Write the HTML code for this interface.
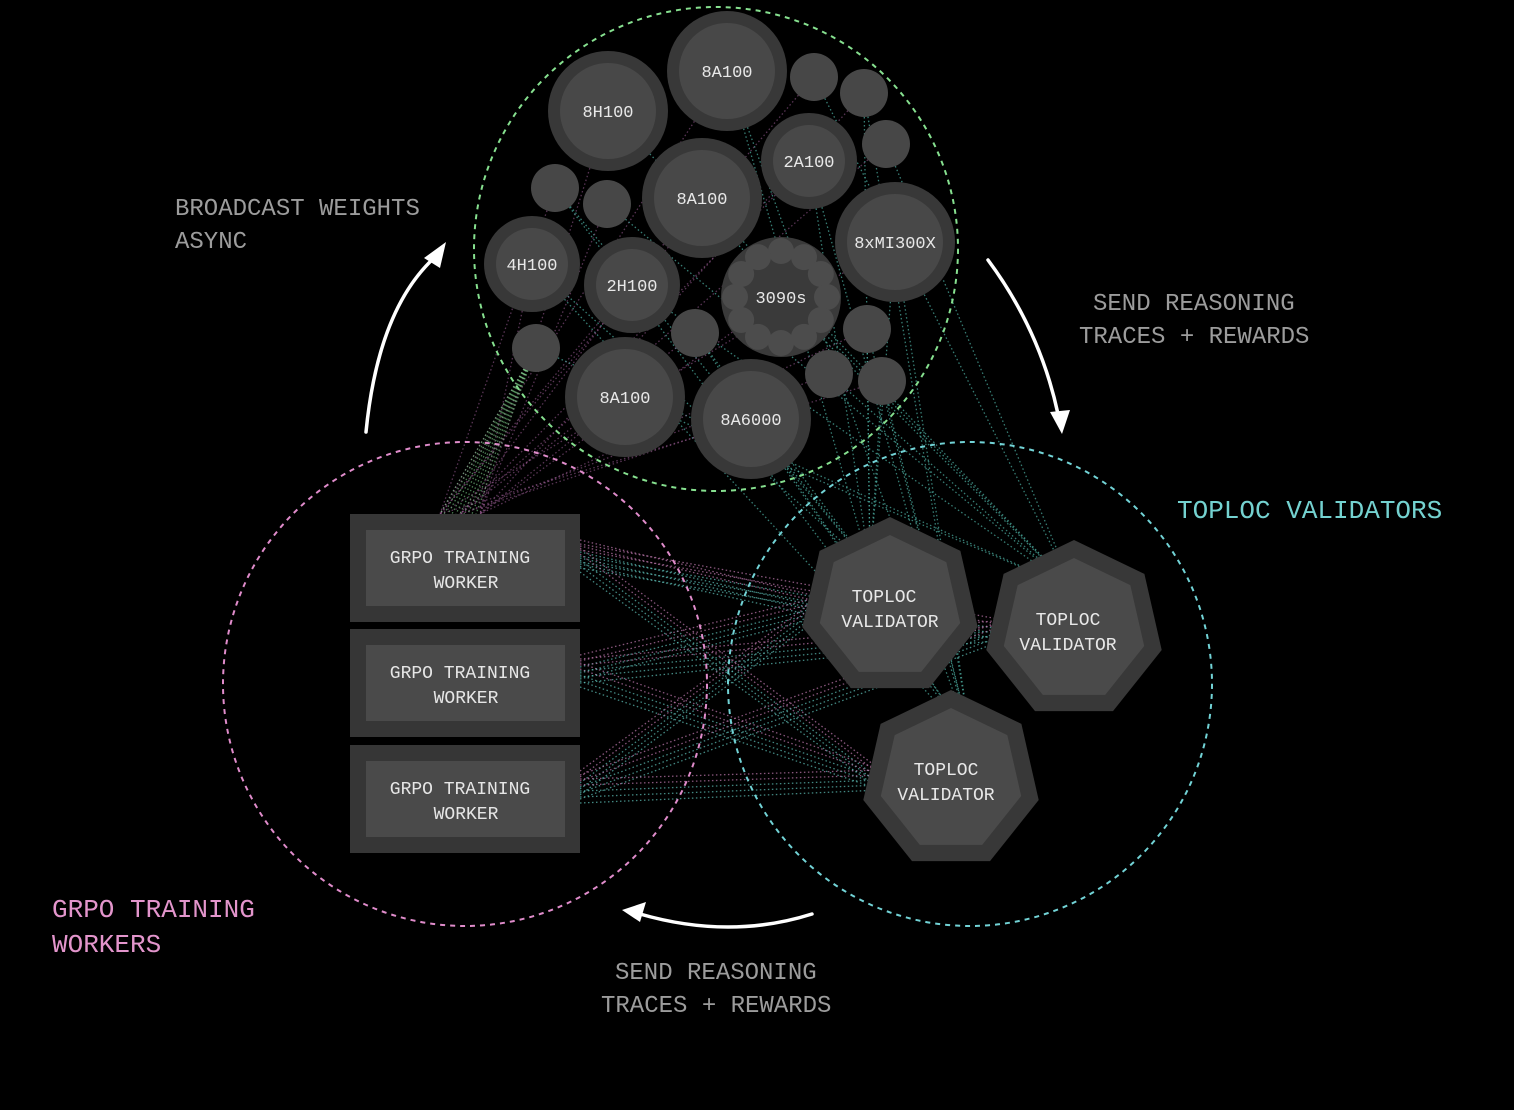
<!DOCTYPE html>
<html><head><meta charset="utf-8"><style>
html,body{margin:0;padding:0;background:#000;width:1514px;height:1110px;overflow:hidden}
svg{display:block}
text{font-family:"Liberation Mono","DejaVu Sans Mono",monospace}
</style></head><body>
<svg id="s" width="1514" height="1110" viewBox="0 0 1514 1110" xmlns="http://www.w3.org/2000/svg">
<rect width="1514" height="1110" fill="#000"/>
<g id="lines"></g>
<!-- dashed group circles -->
<circle cx="716" cy="249" r="242" fill="none" stroke="#86e08f" stroke-width="2" stroke-dasharray="5 5"/>
<circle cx="465" cy="684" r="242" fill="none" stroke="#e08ccb" stroke-width="2" stroke-dasharray="5 5"/>
<circle cx="970" cy="684" r="242" fill="none" stroke="#72d3d6" stroke-width="2" stroke-dasharray="5 5"/>
<g id="nodes"></g>
<!-- workers -->
<g font-size="18" fill="#e6e6e6" text-anchor="middle">
<rect x="350" y="514" width="230" height="108" fill="#363636"/><rect x="366" y="530" width="199" height="76" fill="#4a4a4a"/>
<text x="460" y="563">GRPO TRAINING</text><text x="466" y="588">WORKER</text>
<rect x="350" y="629" width="230" height="108" fill="#363636"/><rect x="366" y="645" width="199" height="76" fill="#4a4a4a"/>
<text x="460" y="678">GRPO TRAINING</text><text x="466" y="703">WORKER</text>
<rect x="350" y="745" width="230" height="108" fill="#363636"/><rect x="366" y="761" width="199" height="76" fill="#4a4a4a"/>
<text x="460" y="794">GRPO TRAINING</text><text x="466" y="819">WORKER</text>
</g>
<g id="hepts"></g>
<!-- arrows -->
<g fill="none" stroke="#fff" stroke-width="3.5" stroke-linecap="round">
<path d="M366 432 Q378 310 434 258"/>
<path d="M988 260 Q1040 330 1058 414"/>
<path d="M812 914 Q730 940 640 914"/>
</g>
<g fill="#fff">
<polygon points="446,242 424,258 440,268"/>
<polygon points="1062,434 1050,412 1070,410"/>
<polygon points="622,910 646,902 640,922"/>
</g>
<!-- labels -->
<g font-size="24" fill="#9c9c9c">
<text x="175" y="215">BROADCAST WEIGHTS</text>
<text x="175" y="248">ASYNC</text>
<text x="1093" y="310">SEND REASONING</text>
<text x="1079" y="343">TRACES + REWARDS</text>
<text x="615" y="979">SEND REASONING</text>
<text x="601" y="1012">TRACES + REWARDS</text>
</g>
<text x="1177" y="518" font-size="26" fill="#74d2d0">TOPLOC VALIDATORS</text>
<g font-size="26" fill="#e395cc"><text x="52" y="917">GRPO TRAINING</text><text x="52" y="952">WORKERS</text></g>
</svg>
<script>
var NS="http://www.w3.org/2000/svg";
function el(t,a,p){var e=document.createElementNS(NS,t);for(var k in a)e.setAttribute(k,a[k]);p.appendChild(e);return e;}
var nodes=document.getElementById('nodes'),lines=document.getElementById('lines'),hepts=document.getElementById('hepts');
var big=[[727,71,60,"8A100"],[608,111,60,"8H100"],[809,161,48,"2A100"],[702,198,60,"8A100"],[532,264,48,"4H100"],[632,285,48,"2H100"],[895,242,60,"8xMI300X"],[625,397,60,"8A100"],[751,419,60,"8A6000"]];
var small=[[814,77],[864,93],[886,144],[555,188],[607,204],[695,333],[536,348],[867,329],[829,374],[882,381]];
var hp=[[890,607,90,"TOPLOC","VALIDATOR",884,896],[1074,630,90,"TOPLOC","VALIDATOR",1068,1074],[951,780,90,"TOPLOC","VALIDATOR",946,952]];
var workers=[[580,568],[580,683],[580,799]];
// connector lines
var srcs=big.concat(small.map(function(s){return [s[0],s[1]]})).concat([[781,297]]);
function line(x1,y1,x2,y2,c,o){el('line',{x1:x1,y1:y1,x2:x2,y2:y2,stroke:c,'stroke-width':1.3,'stroke-dasharray':'1.5 2.5',opacity:o},lines);}
srcs.forEach(function(s,i){
  hp.forEach(function(h,j){ if((i+j)%2==0) line(s[0],s[1],h[0]+(j-1)*20,h[1]-40,'#4fb3a6',0.7);});
  workers.forEach(function(w,j){ if((i+j)%3==0) line(s[0],s[1],440+j*20,514,'#a0609a',0.55);});
});
for(var k=0;k<10;k++){line(536,348,440+k*4,514,'#7fd08a',0.6);}
workers.forEach(function(w,i){
  hp.forEach(function(h,j){
    for(var k=0;k<5;k++){line(w[0],w[1]-28+k*6+j*4,h[0]-70,h[1]-10+k*5,k<2?'#c07ab0':'#5fc0b8',0.7);}
  });
});
// circles
big.forEach(function(b){
  el('circle',{cx:b[0],cy:b[1],r:b[2],fill:'#383838'},nodes);
  el('circle',{cx:b[0],cy:b[1],r:b[2]-12,fill:'#484848'},nodes);
  var t=el('text',{x:b[0],y:b[1]+6,'text-anchor':'middle','font-size':17,fill:'#e8e8e8'},nodes);t.textContent=b[3];
});
small.forEach(function(s){el('circle',{cx:s[0],cy:s[1],r:24,fill:'#474747'},nodes);});
el('circle',{cx:781,cy:297,r:60,fill:'#3a3a3a'},nodes);
for(var i=0;i<12;i++){var a=i/12*2*Math.PI;el('circle',{cx:781+46*Math.sin(a),cy:297-46*Math.cos(a),r:13,fill:'#4c4c4c'},nodes);}
var t3=el('text',{x:781,y:303,'text-anchor':'middle','font-size':17,fill:'#e8e8e8'},nodes);t3.textContent="3090s";
// heptagons
function hept(cx,cy,R){var p=[];for(var i=0;i<7;i++){var a=i*2*Math.PI/7;p.push((cx+R*Math.sin(a)).toFixed(1)+','+(cy-R*Math.cos(a)).toFixed(1));}return p.join(' ');}
hp.forEach(function(h){
  el('polygon',{points:hept(h[0],h[1],h[2]),fill:'#383838'},hepts);
  el('polygon',{points:hept(h[0],h[1],h[2]-18),fill:'#4a4a4a'},hepts);
  var a=el('text',{x:h[5],y:h[1]-5,'text-anchor':'middle','font-size':18,fill:'#e8e8e8'},hepts);a.textContent=h[3];
  var b=el('text',{x:h[6]-6,y:h[1]+20,'text-anchor':'middle','font-size':18,fill:'#e8e8e8'},hepts);b.textContent=h[4];
});
</script>
</body></html>
